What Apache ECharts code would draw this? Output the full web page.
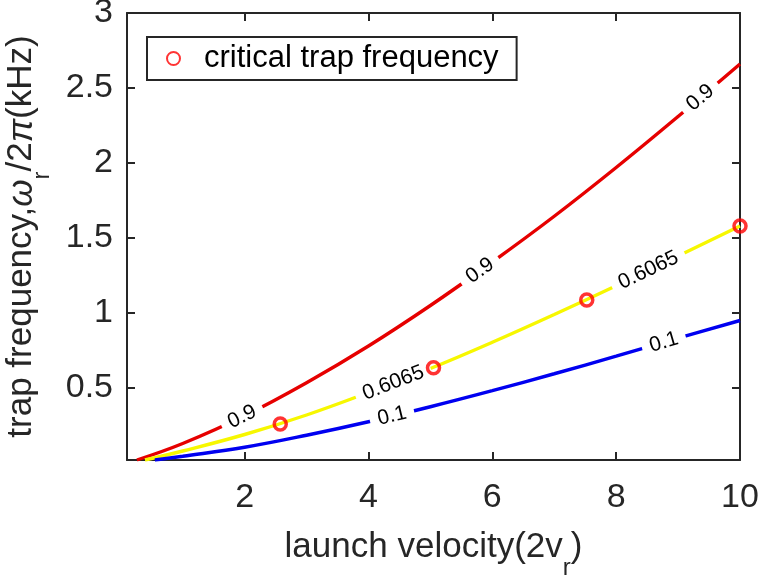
<!DOCTYPE html>
<html>
<head>
<meta charset="utf-8">
<script src="https://cdn.jsdelivr.net/npm/echarts@6/dist/echarts.min.js"></script>
<style>
html,body{margin:0;padding:0;background:#fff;}
#chart{width:760px;height:576px;}
</style>
</head>
<body>
<div id="chart"></div>
<script>
// ---- data ----
const redX    = [0.26, 1, 2, 3, 4, 5, 6, 7, 8, 9, 10];
const redY    = [0.02, 0.13, 0.315, 0.535, 0.78, 1.05, 1.34, 1.645, 1.97, 2.31, 2.66];
const yellowX = [0.39, 1, 2, 3, 4, 5, 6, 7, 8, 9, 10];
const yellowY = [0.02, 0.08, 0.19, 0.32, 0.47, 0.63, 0.805, 0.99, 1.182, 1.38, 1.58];
const blueX   = [0.55, 1, 2, 3, 4, 5, 6, 7, 8, 9, 10];
const blueY   = [0.02, 0.045, 0.105, 0.185, 0.275, 0.375, 0.482, 0.595, 0.712, 0.832, 0.95];

const critX = [2.575, 5.05, 7.525, 10];
const critY = [0.26, 0.635, 1.087, 1.58];

// contour labels: x position along curve, text, curve id
const labelX    = [1.96, 5.80, 9.36, 4.40, 8.52, 4.38, 8.77];
const labelText = ['0.9', '0.9', '0.9', '0.6065', '0.6065', '0.1', '0.1'];
const labelCurve= ['red', 'red', 'red', 'yellow', 'yellow', 'blue', 'blue'];

const xTicks = [2, 4, 6, 8, 10];
const yTicks = [0.5, 1, 1.5, 2, 2.5, 3];

const legendName = 'critical trap frequency';
const xName = '{a|launch velocity(2v}{s|r}{a|)}';
const yName = '{a|trap frequency,}{g|ω}{s|r}{a|/2}{g|π}{a|(kHz)}';

// ---- helpers ----
const curves = {
  red: [redX, redY], yellow: [yellowX, yellowY], blue: [blueX, blueY]
};
function interp(xs, ys, x) {
  if (x <= xs[0]) return ys[0];
  for (let i = 1; i < xs.length; i++) {
    if (x <= xs[i]) {
      const t = (x - xs[i-1]) / (xs[i] - xs[i-1]);
      return ys[i-1] + t * (ys[i] - ys[i-1]);
    }
  }
  return ys[ys.length - 1];
}
const zip = (a, b) => a.map((v, i) => [v, b[i]]);
const labelData = labelX.map((x, i) => {
  const c = curves[labelCurve[i]];
  return [x, interp(c[0], c[1], x)];
});

const FONT = '"Liberation Sans", Arial, Helvetica, sans-serif';
const AX = '#262626';
const NAME_FS = 35, SUB_FS = 24, LH = 66;

const chart = echarts.init(document.getElementById('chart'), null, {renderer: 'canvas'});

const baseAxisX = {
  type: 'value', min: 0.1, max: 10,
  axisLine: {show: true, onZero: false, lineStyle: {color: AX, width: 2}},
  axisTick: {show: true, inside: true, length: 8, lineStyle: {color: AX, width: 2}, customValues: xTicks},
  splitLine: {show: false}
};
const baseAxisY = {
  type: 'value', min: 0.02, max: 3,
  axisLine: {show: true, onZero: false, lineStyle: {color: AX, width: 2}},
  axisTick: {show: true, inside: true, length: 8, lineStyle: {color: AX, width: 2}, customValues: yTicks},
  splitLine: {show: false}
};
const richName = {
  a: {fontSize: NAME_FS, fontFamily: FONT, color: AX, lineHeight: LH},
  g: {fontSize: NAME_FS, fontFamily: FONT, color: AX, fontStyle: 'italic', lineHeight: LH},
  s: {fontSize: SUB_FS, fontFamily: FONT, color: AX, verticalAlign: 'bottom', lineHeight: 2}
};

const option = {
  animation: false,
  backgroundColor: '#fff',
  grid: {left: 127, right: 20, top: 13, bottom: 116, containLabel: false, outerBoundsMode: 'none'},
  legend: {
    show: true,
    data: [legendName],
    left: 147, top: 37,
    orient: 'horizontal',
    borderColor: AX, borderWidth: 2,
    padding: [6, 18, 6, 19],
    itemWidth: 13, itemHeight: 13,
    itemGap: 0,
    backgroundColor: '#fff',
    textStyle: {fontSize: 31, fontFamily: FONT, color: '#000', padding: [0, 0, 0, 19]}
  },
  xAxis: [
    Object.assign({}, baseAxisX, {
      position: 'bottom',
      axisLabel: {show: true, customValues: xTicks, fontSize: 34, fontFamily: FONT, color: AX, margin: 21},
      name: xName,
      nameLocation: 'middle',
      nameGap: 54,
      nameTextStyle: {fontFamily: FONT, color: AX, rich: richName}
    }),
    Object.assign({}, baseAxisX, {position: 'top', axisLabel: {show: false}})
  ],
  yAxis: [
    Object.assign({}, baseAxisY, {
      position: 'left',
      axisLabel: {show: true, customValues: yTicks, fontSize: 34, fontFamily: FONT, color: AX, margin: 14},
      name: yName,
      nameLocation: 'middle',
      nameRotate: 90,
      nameGap: 65,
      nameTextStyle: {fontFamily: FONT, color: AX, rich: richName}
    }),
    Object.assign({}, baseAxisY, {position: 'right', axisLabel: {show: false}})
  ],
  series: [
    {
      type: 'line', name: 'c09', data: zip(redX, redY), smooth: 0.4,
      showSymbol: false, symbol: 'none', lineStyle: {color: '#e60000', width: 3.4}, z: 2, silent: true
    },
    {
      type: 'line', name: 'c06', data: zip(yellowX, yellowY), smooth: 0.4,
      showSymbol: false, symbol: 'none', lineStyle: {color: '#f7f700', width: 3.4}, z: 2, silent: true
    },
    {
      type: 'line', name: 'c01', data: zip(blueX, blueY), smooth: 0.4,
      showSymbol: false, symbol: 'none', lineStyle: {color: '#0000f0', width: 3.4}, z: 2, silent: true
    },
    {
      type: 'custom', name: 'labels', data: labelData, z: 3, silent: true,
      renderItem: function (params, api) {
        const i = params.dataIndex;
        const c = curves[labelCurve[i]];
        const x = api.value(0), y = api.value(1);
        const p = api.coord([x, y]);
        const d = 0.3;
        const p1 = api.coord([x - d, interp(c[0], c[1], x - d)]);
        const p2 = api.coord([x + d, interp(c[0], c[1], x + d)]);
        const rot = Math.atan2(p1[1] - p2[1], p2[0] - p1[0]);
        return {
          type: 'text', x: p[0], y: p[1], rotation: rot,
          style: {
            text: labelText[i], fontSize: 21, fontFamily: FONT, fill: '#000',
            align: 'center', verticalAlign: 'middle',
            backgroundColor: '#fff', padding: [1, 8, 1, 8]
          }
        };
      }
    },
    {
      type: 'scatter', name: legendName, data: zip(critX, critY), z: 5,
      symbol: 'circle', symbolSize: 12,
      itemStyle: {color: 'rgba(255,255,255,0)', borderColor: '#ff0000', borderWidth: 3.5},
      clip: false
    }
  ]
};
chart.setOption(option);
</script>
</body>
</html>
